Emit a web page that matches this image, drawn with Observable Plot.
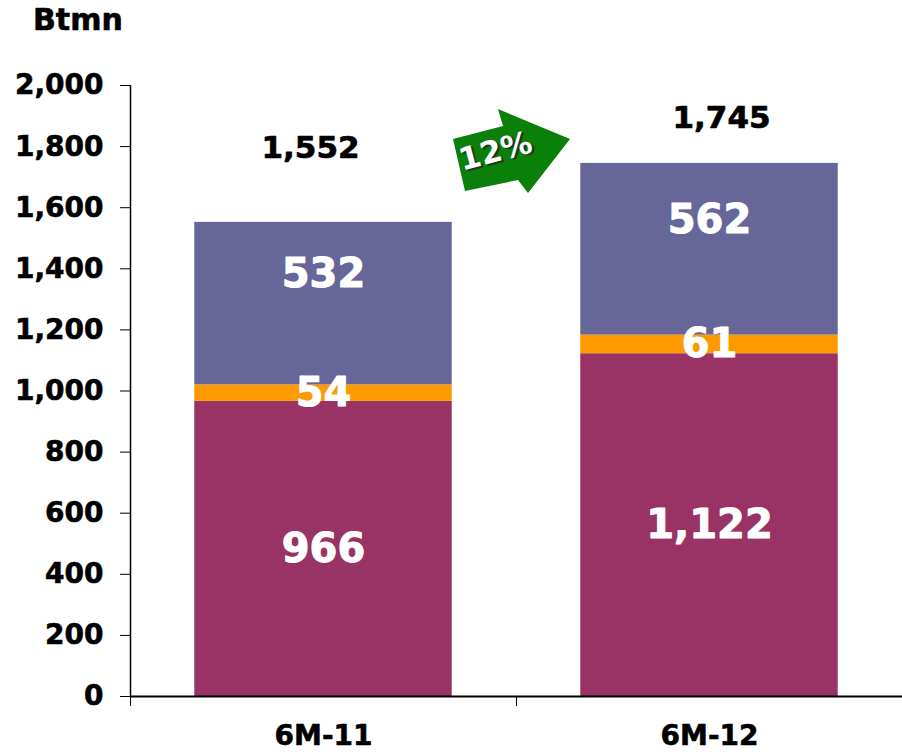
<!DOCTYPE html>
<html>
<head>
<meta charset="utf-8">
<script src="https://cdn.jsdelivr.net/npm/d3@7"></script>
<script src="https://cdn.jsdelivr.net/npm/@observablehq/plot@0.6"></script>
<style>
  html, body { margin: 0; padding: 0; background: #fff; }
  #wrap { position: relative; width: 902px; height: 755px; font-family: "DejaVu Sans", sans-serif; }
  #unit { position: absolute; left: 33px; top: 2px; font-size: 30px; font-weight: bold; color: #000; -webkit-text-stroke: 0.6px #000; }
  #arrow { position: absolute; left: 0; top: 0; pointer-events: none; }
  #chart svg g[aria-label="y-axis tick label"] text { stroke: #000; stroke-width: 0.6px; }
</style>
</head>
<body>
<div id="wrap">
  <div id="chart"></div>
  <div id="unit">Btmn</div>
  <svg id="arrow" width="902" height="755"></svg>
</div>
<script>
const periods = ["6M-11", "6M-12"];
const bottomValues = [966, 1122];
const middleValues = [54, 61];
const topValues = [532, 562];
const totals = [1552, 1745];
const growthLabel = "12%";
const yTicks = [0, 200, 400, 600, 800, 1000, 1200, 1400, 1600, 1800, 2000];

const seriesColors = { bottom: "#993366", middle: "#FF9900", top: "#666699" };

const rows = [];
periods.forEach((p, i) => {
  let base = 0;
  [["bottom", bottomValues[i]], ["middle", middleValues[i]], ["top", topValues[i]]].forEach(([s, v]) => {
    rows.push({ period: p, i, series: s, value: v, y1: base, y2: base + v });
    base += v;
  });
});
const totalRows = periods.map((p, i) => ({ period: p, i, total: totals[i] }));
const fmt = d3.format(",");
const half = 0.3335;

const chart = Plot.plot({
  width: 902,
  height: 755,
  marginLeft: 130,
  marginRight: 0,
  marginTop: 85,
  marginBottom: 59,
  style: { fontFamily: "DejaVu Sans, sans-serif", fontWeight: "bold", fontSize: "28px", color: "#000", background: "transparent" },
  x: { type: "linear", domain: [-0.5, 1.5], axis: null },
  y: { domain: [0, 2000], axis: null },
  marks: [
    Plot.rect(rows, {
      x1: d => d.i - half, x2: d => d.i + half, y1: "y1", y2: "y2",
      fill: d => seriesColors[d.series]
    }),
    Plot.ruleX([-0.5], { y1: 0, y2: 2000, stroke: "#000", strokeWidth: 1.5 }),
    Plot.ruleY([0], { stroke: "#000", strokeWidth: 2 }),
    Plot.axisY({ ticks: yTicks, tickFormat: fmt, tickSize: 10, tickPadding: 17, label: null, fontSize: 28, fontWeight: "bold" }),
    Plot.axisX({ ticks: [-0.5, 0.5, 1.5], tickSize: 10, tickFormat: () => "", label: null }),
    Plot.text(periods, { x: (d, i) => i, frameAnchor: "bottom", dy: 48, text: d => d, fontSize: 28, fontWeight: "bold", fill: "#000", stroke: "#000", strokeWidth: 0.6 }),
    Plot.text(rows.filter(d => d.series !== "top"), {
      x: "i", y: d => (d.y1 + d.y2) / 2, text: d => fmt(d.value),
      fill: "#fff", stroke: "#fff", strokeWidth: 1, fontSize: 40, fontWeight: "bold"
    }),
    Plot.text(rows.filter(d => d.series === "top"), {
      x: "i", y: d => (d.y1 + d.y2) / 2, dy: -29, text: d => fmt(d.value),
      fill: "#fff", stroke: "#fff", strokeWidth: 1, fontSize: 40, fontWeight: "bold"
    }),
    Plot.text(totalRows.filter(d => d.i === 0), {
      x: "i", y: "total", dy: -74, dx: -13, text: d => fmt(d.total),
      fill: "#000", stroke: "#000", strokeWidth: 0.7, fontSize: 31, fontWeight: "bold"
    }),
    Plot.text(totalRows.filter(d => d.i === 1), {
      x: "i", y: "total", dy: -45, dx: 12, text: d => fmt(d.total),
      fill: "#000", stroke: "#000", strokeWidth: 0.7, fontSize: 31, fontWeight: "bold"
    })
  ]
});
document.getElementById("chart").appendChild(chart);

// decorative growth arrow
const a = d3.select("#arrow");
a.append("polygon")
  .attr("points", "453,139 503,126 498,109 570,139 528,193 518,180 465,191")
  .attr("fill", "#0A7F0A");
const g = a.append("g").attr("transform", "translate(496,153) rotate(-15)");
g.append("text").attr("x", 2).attr("y", 2)
  .attr("text-anchor", "middle").attr("dominant-baseline", "middle")
  .attr("font-family", "DejaVu Sans, sans-serif").attr("font-size", 31).attr("font-weight", "bold")
  .attr("fill", "#1a3a1a").text(growthLabel);
g.append("text")
  .attr("text-anchor", "middle").attr("dominant-baseline", "middle")
  .attr("font-family", "DejaVu Sans, sans-serif").attr("font-size", 31).attr("font-weight", "bold")
  .attr("fill", "#fff").text(growthLabel);
</script>
</body>
</html>
